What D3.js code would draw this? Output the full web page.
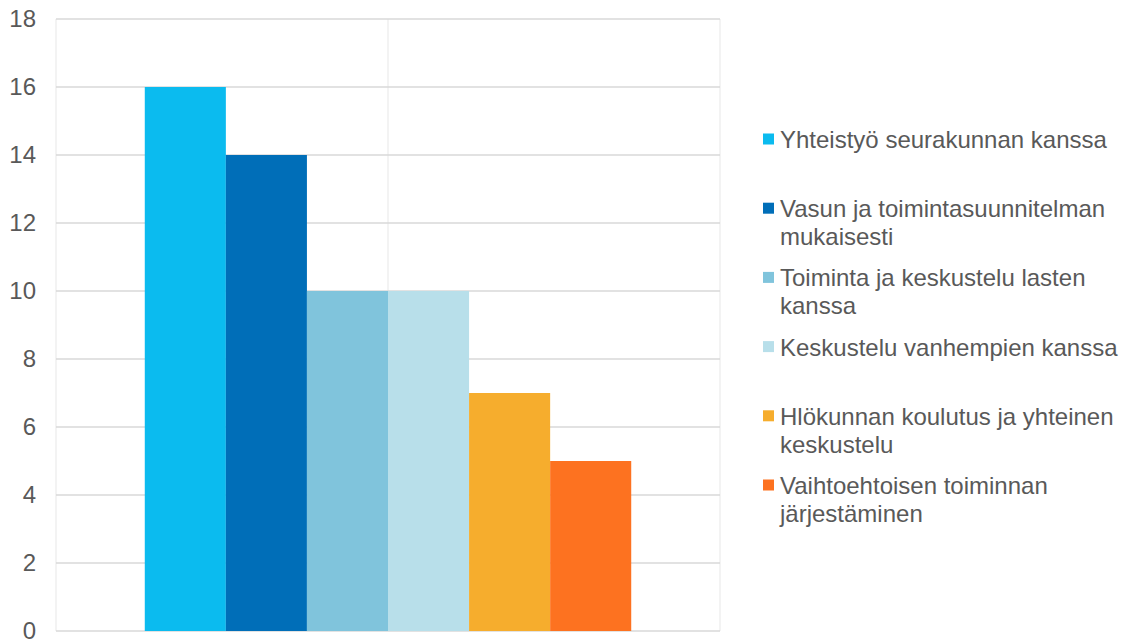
<!DOCTYPE html>
<html>
<head>
<meta charset="utf-8">
<script src="https://cdn.jsdelivr.net/npm/d3@7"></script>
<style>
  html, body { margin: 0; padding: 0; background: #fff; }
  svg { display: block; }
  text { font-family: "Liberation Sans", Arial, sans-serif; fill: #595959; }
</style>
</head>
<body>
<svg id="chart" width="1124" height="641"></svg>
<script>
// Series shown as adjacent bars within a single group
const seriesNames = [
  "Yhteistyö seurakunnan kanssa",
  "Vasun ja toimintasuunnitelman mukaisesti",
  "Toiminta ja keskustelu lasten kanssa",
  "Keskustelu vanhempien kanssa",
  "Hlökunnan koulutus ja yhteinen keskustelu",
  "Vaihtoehtoisen toiminnan järjestäminen"
];
const seriesValues = [16, 14, 10, 10, 7, 5];
const seriesColors = ["#0bbbef", "#006eb8", "#80c4dc", "#b8dfea", "#f6ad2d", "#fd7220"];
// Legend text wrapped as in the drawn legend
const legendLines = [
  ["Yhteistyö seurakunnan kanssa"],
  ["Vasun ja toimintasuunnitelman", "mukaisesti"],
  ["Toiminta ja keskustelu lasten", "kanssa"],
  ["Keskustelu vanhempien kanssa"],
  ["Hlökunnan koulutus ja yhteinen", "keskustelu"],
  ["Vaihtoehtoisen toiminnan", "järjestäminen"]
];
const yTicks = [0, 2, 4, 6, 8, 10, 12, 14, 16, 18];

const svg = d3.select("#chart");
const plot = { left: 56, right: 720, top: 19, bottom: 631 };

const y = d3.scaleLinear().domain([0, 18]).range([plot.bottom, plot.top]);
const x = d3.scaleBand()
  .domain(seriesNames)
  .range([plot.left, plot.right])
  .paddingInner(0)
  .paddingOuter(1.095);

// Vertical frame / category lines
const vLines = [plot.left, (plot.left + plot.right) / 2, plot.right];
svg.append("g").selectAll("line").data(vLines).join("line")
  .attr("x1", d => d).attr("x2", d => d)
  .attr("y1", plot.top).attr("y2", plot.bottom)
  .attr("stroke", "#efefef").attr("stroke-width", 1.5);

// Horizontal gridlines
svg.append("g").selectAll("line").data(yTicks).join("line")
  .attr("x1", plot.left).attr("x2", plot.right)
  .attr("y1", d => y(d)).attr("y2", d => y(d))
  .attr("stroke", "#d9d9d9").attr("stroke-width", 1.5);

// Y axis labels
const yAxis = d3.axisLeft(y).tickValues(yTicks).tickSize(0).tickPadding(20);
const gy = svg.append("g").attr("transform", `translate(${plot.left},0)`).call(yAxis);
gy.select(".domain").remove();
gy.selectAll("text")
  .style("font-family", '"Liberation Sans", Arial, sans-serif')
  .style("font-size", "24px")
  .attr("fill", "#595959");

// Bars
svg.append("g").selectAll("rect").data(seriesNames).join("rect")
  .attr("x", d => x(d))
  .attr("width", x.bandwidth())
  .attr("y", (d, i) => y(seriesValues[i]))
  .attr("height", (d, i) => y(0) - y(seriesValues[i]))
  .attr("fill", (d, i) => seriesColors[i]);

// Legend
const ly = d3.scalePoint().domain(d3.range(seriesNames.length)).range([139, 485]);
const lg = svg.append("g").selectAll("g").data(seriesNames).join("g")
  .attr("transform", (d, i) => `translate(763,${ly(i)})`);
lg.append("rect")
  .attr("x", 0).attr("y", -5.5).attr("width", 11).attr("height", 11)
  .attr("fill", (d, i) => seriesColors[i]);
lg.append("text")
  .attr("x", 17)
  .style("font-size", "24px")
  .attr("dominant-baseline", "central")
  .selectAll("tspan").data((d, i) => legendLines[i]).join("tspan")
  .attr("x", 17)
  .attr("y", (d, j) => j * 28)
  .text(d => d);
</script>
</body>
</html>
